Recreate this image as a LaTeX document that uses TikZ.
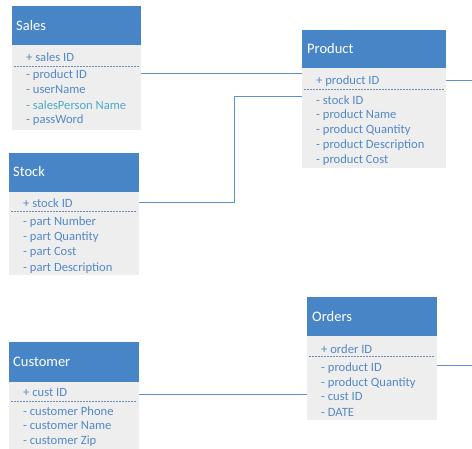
\documentclass[tikz,border=0pt]{standalone}
\usepackage{fontspec}
\setmainfont{Carlito}
\definecolor{hdrblue}{RGB}{72,133,199}
\definecolor{bodygray}{RGB}{238,238,238}
\definecolor{attrblue}{RGB}{84,136,198}
\definecolor{attrteal}{RGB}{75,172,198}
\definecolor{connblue}{RGB}{91,145,205}
\definecolor{dashcol}{RGB}{110,140,175}
\begin{document}
\begin{tikzpicture}[x=1pt,y=-1pt,
  hdrbox/.style={draw=none,fill=hdrblue,anchor=north west,inner sep=0pt},
  bodybox/.style={draw=none,fill=bodygray,anchor=north west,inner sep=0pt},
  title/.style={anchor=west,inner sep=0pt,text=white,font=\fontsize{14.5}{16}\selectfont},
  attr/.style={anchor=west,inner sep=0pt,text=attrblue,font=\fontsize{12.6}{14}\selectfont},
  attrt/.style={attr,text=attrteal},
  sepline/.style={draw=dashcol,line width=0.8pt,dash pattern=on 2pt off 1pt},
  conn/.style={draw=connblue,line width=1pt}]
\useasboundingbox (0,0) rectangle (472,449);
% Sales
\node[hdrbox,minimum width=129pt,minimum height=39pt] (salesH) at (12,6) {};
\node[bodybox,minimum width=129pt,minimum height=85pt] (salesB) at (12,45) {};
\node[title] (salesT) at (16,26) {Sales};
\node[attr] (s1) at (26,57) {+ sales ID};
\node[attr] (s2) at (26,75) {- product ID};
\node[attr] (s3) at (26,90) {- userName};
\node[attrt] (s4) at (26,105) {- salesPerson Name};
\node[attr] (s5) at (26,120) {- passWord};
\draw[sepline] (salesB.north west) ++(2,21) -- ++(125,0);
% Product
\node[hdrbox,minimum width=144pt,minimum height=38pt] (prodH) at (302,30) {};
\node[bodybox,minimum width=144pt,minimum height=100pt] (prodB) at (302,68) {};
\node[title] (prodT) at (307,49) {Product};
\node[attr] (p1) at (316,81) {+ product ID};
\node[attr] (p2) at (316,100) {- stock ID};
\node[attr] (p3) at (316,115) {- product Name};
\node[attr] (p4) at (316,130) {- product Quantity};
\node[attr] (p5) at (316,145) {- product Description};
\node[attr] (p6) at (316,160) {- product Cost};
\draw[sepline] (prodB.north west) ++(2,21) -- ++(140,0);
% Stock
\node[hdrbox,minimum width=130pt,minimum height=39pt] (stockH) at (9,153) {};
\node[bodybox,minimum width=130pt,minimum height=83pt] (stockB) at (9,192) {};
\node[title] (stockT) at (13,172) {Stock};
\node[attr] (k1) at (23,203) {+ stock ID};
\node[attr] (k2) at (23,222) {- part Number};
\node[attr] (k3) at (23,237) {- part Quantity};
\node[attr] (k4) at (23,252) {- part Cost};
\node[attr] (k5) at (23,268) {- part Description};
\draw[sepline] (stockB.north west) ++(2,19) -- ++(126,0);
% Customer
\node[hdrbox,minimum width=130pt,minimum height=40pt] (custH) at (9,342) {};
\node[bodybox,minimum width=130pt,minimum height=67pt] (custB) at (9,382) {};
\node[title] (custT) at (13,362) {Customer};
\node[attr] (c1) at (23,393) {+ cust ID};
\node[attr] (c2) at (23,411) {- customer Phone};
\node[attr] (c3) at (23,426) {- customer Name};
\node[attr] (c4) at (23,441) {- customer Zip};
\draw[sepline] (custB.north west) ++(2,19) -- ++(126,0);
% Orders
\node[hdrbox,minimum width=130pt,minimum height=39pt] (ordH) at (307,297) {};
\node[bodybox,minimum width=130pt,minimum height=84pt] (ordB) at (307,336) {};
\node[title] (ordT) at (312,317) {Orders};
\node[attr] (o1) at (321,349) {+ order ID};
\node[attr] (o2) at (321,368) {- product ID};
\node[attr] (o3) at (321,383) {- product Quantity};
\node[attr] (o4) at (321,397) {- cust ID};
\node[attr] (o5) at (321,412) {- DATE};
\draw[sepline] (ordB.north west) ++(2,20) -- ++(126,0);
% connectors
\coordinate (j1) at (234,203);
\coordinate (j2) at (234,97);
\coordinate (pr) at (472,81);
\coordinate (orr) at (472,366);
\draw[conn] (salesB.east |- 0,74) -- (prodB.west |- 0,74);
\draw[conn] (stockB.east |- k1) -- (j1) -- (j2) -- (prodB.west |- j2);
\draw[conn] (prodB.east |- p1) -- (pr);
\draw[conn] (custB.east |- 0,395) -- (ordB.west |- 0,395);
\draw[conn] (ordB.east |- orr) -- (orr);
\end{tikzpicture}
\end{document}
